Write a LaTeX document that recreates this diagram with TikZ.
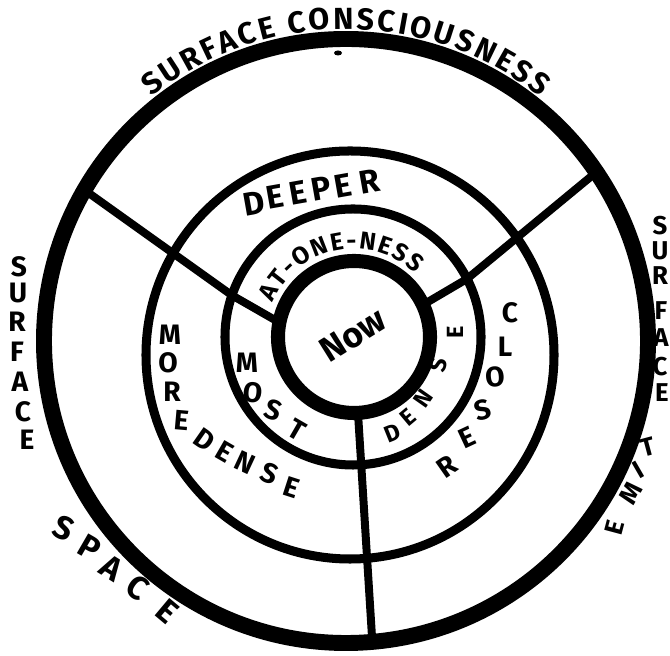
\documentclass[tikz,border=0pt]{standalone}
\usepackage{fontspec}
\setmainfont{Fira Sans}
\usetikzlibrary{decorations.text,calc}
\tikzset{
	ring/.style={draw,circle,inner sep=0pt,outer sep=0pt},
	spoke/.style={line width=6.8pt,line join=round},
	hand/.style={inner sep=0pt,font=\bfseries\fontsize{#1}{#1}\selectfont},
	hand/.default=24
}

\begin{document}
\begin{tikzpicture}[x=0.03cm,y=0.03cm]
	\useasboundingbox (0,0) rectangle (670,656);
	% rings, outside in
	\node[ring,line width=13.6pt,minimum size=18.12cm] (surf) at (346,315) {};
	\node[ring,line width=7.7pt,minimum size=12.24cm] (deep) at (350,301) {};
	\node[ring,line width=7.7pt,minimum size=7.68cm] (one) at (353,319) {};
	\node[ring,line width=12pt,minimum size=4.56cm] (now) at (354,319) {};
	% spokes
	\draw[spoke] (surf.150) -- (one.161) -- (now.169);
	\draw[spoke] (surf.34) -- (one.27) -- (now.25);
	\draw[spoke] (now.273) -- (surf.275);
	\fill (338,603) ellipse (0.12cm and 0.075cm);
	% curved labels
	\path[decorate,decoration={text along path,text align={fit to path},
		text={|\bfseries\fontsize{26}{26}\selectfont|SURFACE CONSCIOUSNESS}}]
		($(surf.center)+(128.5:9.36cm)$) arc (128.5:51.5:9.36cm);
	\path[decorate,decoration={text along path,text align={fit to path},
		text={|\bfseries\fontsize{21}{21}\selectfont|AT-ONE-NESS}}]
		($(now.center)+(157:2.64cm)$) arc (157:46:2.64cm);
	\node[hand=30,rotate=32] (nowtxt) at (353,321) {Now};
	% hand lettered words
	\foreach \c/\x/\y [count=\i] in {S/19/389,U/18/363,R/17/334,F/17/304,A/20/274,C/23/244,E/27/216}
		\node[hand] (sl\i) at (\x,\y) {\c};
	\foreach \c/\x/\y/\r [count=\i] in {S/660/430/0,U/660/405/0,R/660/380/0,F/661/345/0,A/661/318/0,C/660/289/0,E/662/263/0,T/648/209/15,I/638/186/30,M/631/163/60,E/615/128/75}
		\node[hand=22,rotate=\r] (sr\i) at (\x,\y) {\c};
	\foreach \c/\x/\y/\r [count=\i] in {S/64/128/-25,P/90/108/-30,A/112/88/-32,C/138/68/-35,E/167/45/-40}
		\node[hand=28,rotate=\r] (sp\i) at (\x,\y) {\c};
	\foreach \c/\x/\y [count=\i] in {D/254/453,E/275/459,E/298/463,P/321/467,E/343/470,R/369/474}
		\node[hand=28,rotate=10] (dp\i) at (\x,\y) {\c};
	\foreach \c/\x/\y/\r [count=\i] in {M/170/321/0,O/168/293/0,R/172/264/0,E/182/236/-5,D/205/216/-35,E/225/204/-30,N/245/193/-25,S/270/183/-22,E/292/168/-18}
		\node[hand,rotate=\r] (md\i) at (\x,\y) {\c};
	\foreach \c/\x/\y/\r [count=\i] in {M/247/293/0,O/253/263/-5,S/273/246/-20,T/297/226/-30}
		\node[hand,rotate=\r] (ms\i) at (\x,\y) {\c};
	\foreach \c/\x/\y/\r [count=\i] in {D/393/223/22,E/408/239/40,N/423/258/55,S/438/291/75,E/455/324/90}
		\node[hand=20,rotate=\r] (dn\i) at (\x,\y) {\c};
	\foreach \c/\x/\y/\r [count=\i] in {C/510/343/0,L/505/309/0,O/495/279/5,S/483/246/15,E/467/218/25,R/447/189/35}
		\node[hand,rotate=\r] (cl\i) at (\x,\y) {\c};
\end{tikzpicture}
\end{document}
